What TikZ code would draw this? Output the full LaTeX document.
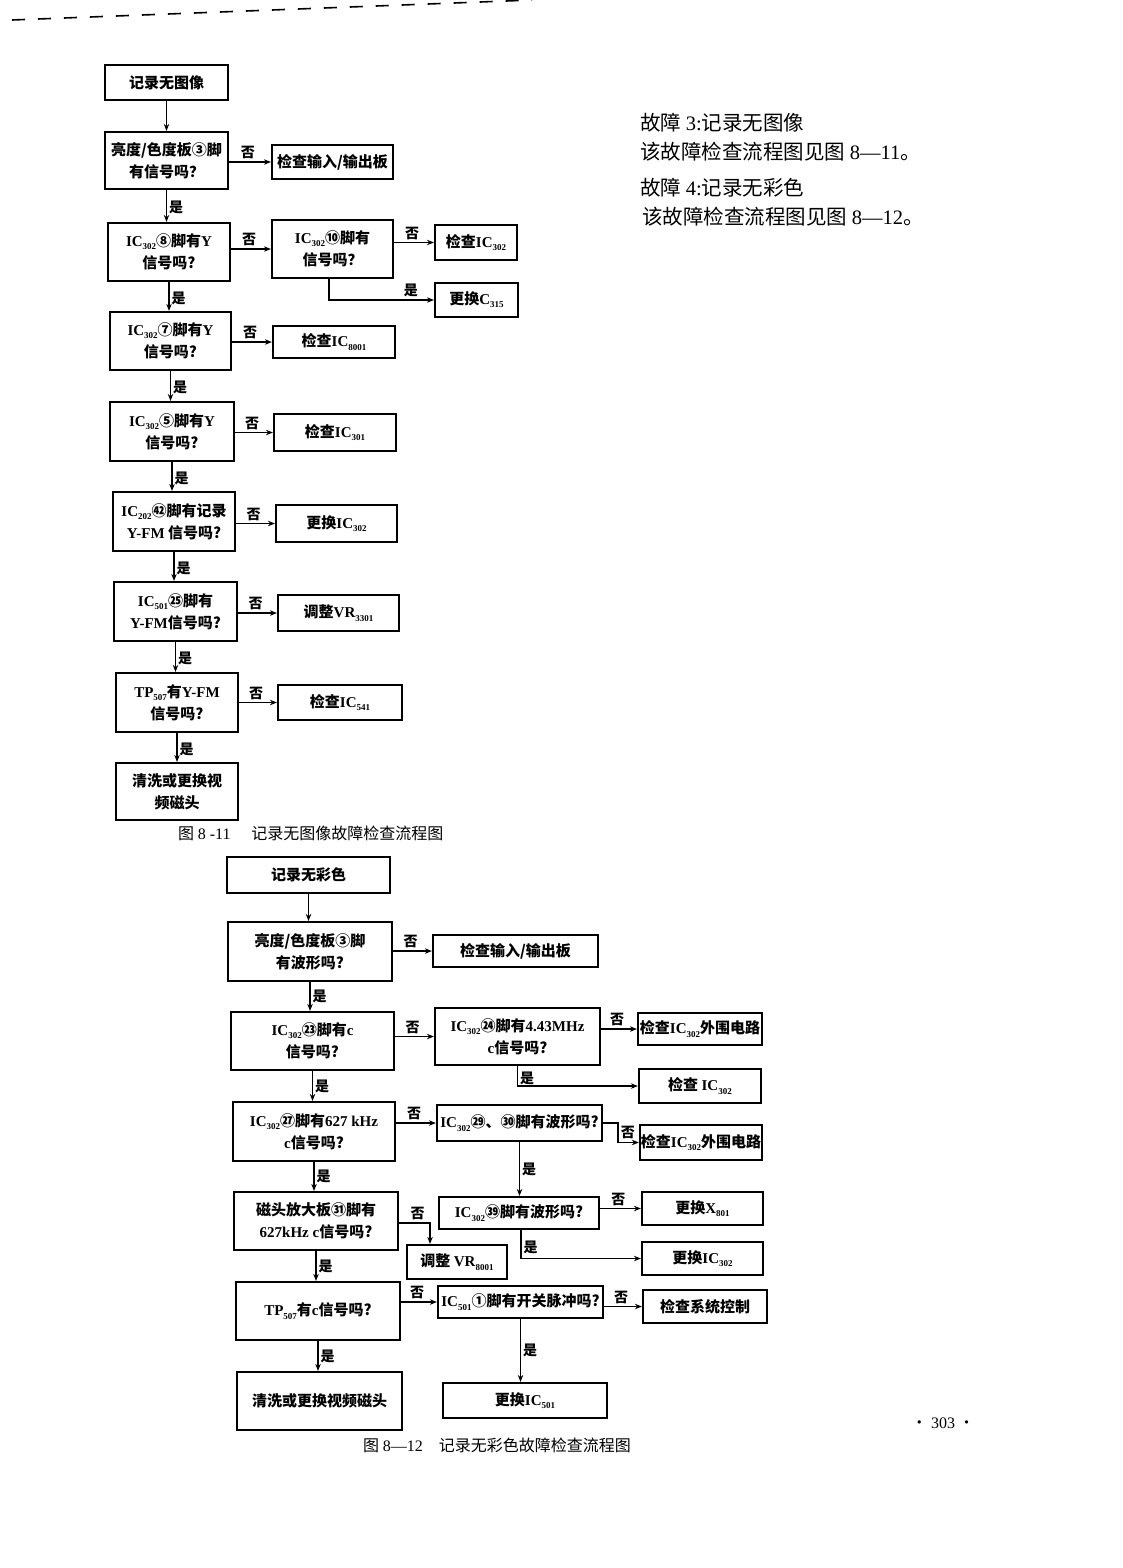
\documentclass[tikz,border=0pt]{standalone}
\usepackage{fontspec}
\setmainfont{Noto Sans CJK SC}
\newfontfamily\lat{Liberation Serif}
\usetikzlibrary{arrows.meta,calc}
\newcommand\sbs[1]{\raisebox{-0.4ex}{\fontsize{9}{9}\selectfont\lat #1}}
\newcommand\ic[1]{{\lat IC}\sbs{#1}}
\newcommand\la[1]{{\lat #1}}
\newcommand\bx[6]{\node[box, minimum width={(#4)-(#2)}, minimum height={(#5)-(#3)}] (#1) at ({((#2)+(#4))/2},{((#3)+(#5))/2}) {#6};}
\begin{document}
\begin{tikzpicture}[x=1pt,y=-1pt,
  box/.style={draw, line width=2.2pt, align=center, inner sep=1pt, font=\fontsize{15}{22}\selectfont\bfseries},
  arr/.style={line width=1.4pt, -{Stealth[length=7pt,width=5.5pt]}},
  lbl/.style={font=\fontsize{14}{14}\selectfont\bfseries, inner sep=2pt},
  sidetxt/.style={anchor=west, inner sep=0pt, font=\fontsize{20.5}{24}\selectfont},
  captxt/.style={anchor=west, inner sep=0pt, font=\fontsize{16}{18}\selectfont}]
\fill[white] (0,0) rectangle (1122,1568);
\useasboundingbox (0,0) rectangle (1122,1568);
\draw[line width=1.6pt, dash pattern=on 13pt off 13pt] (12,20) -- (532,0);

% ---------- figure 8-11 ----------
\bx{a1}{105}{65}{228}{100}{记录无图像}
\bx{a2}{105}{132}{228}{189}{亮度/色度板③脚\\有信号吗？}
\bx{a2n}{272}{145}{393}{179}{检查输入/输出板}
\bx{a3}{108}{223}{230}{281}{\ic{302}⑧脚有\la{Y}\\信号吗?}
\bx{a3n}{272}{220}{393}{278}{\ic{302}⑩脚有\\信号吗？}
\bx{a3nn}{435}{225}{517}{260}{检查\ic{302}}
\bx{a3ny}{435}{283}{518}{317}{更换\la{C}\sbs{315}}
\bx{a4}{110}{312}{231}{370}{\ic{302}⑦脚有\la{Y}\\信号吗?}
\bx{a4n}{273}{326}{395}{358}{检查\ic{8001}}
\bx{a5}{110}{402}{234}{461}{\ic{302}⑤脚有\la{Y}\\信号吗?}
\bx{a5n}{274}{414}{396}{451}{检查\ic{301}}
\bx{a6}{113}{492}{235}{551}{\ic{202}㊷脚有记录\\\la{Y-FM} 信号吗?}
\bx{a6n}{276}{505}{397}{542}{更换\ic{302}}
\bx{a7}{114}{582}{237}{641}{\ic{501}㉕脚有\\\la{Y-FM}信号吗?}
\bx{a7n}{278}{595}{399}{631}{调整\la{VR}\sbs{3301}}
\bx{a8}{116}{673}{238}{732}{\la{TP}\sbs{507}有\la{Y-FM}\\信号吗?}
\bx{a8n}{278}{685}{402}{720}{检查\ic{541}}
\bx{a9}{116}{763}{238}{820}{清洗或更换视\\频磁头}

\draw[arr] (a1.south) -- (a1.south |- a2.north);
\foreach \u/\v in {a2/a3,a3/a4,a4/a5,a5/a6,a6/a7,a7/a8,a8/a9}{
  \draw[arr] (\u.south) -- node[lbl, right, pos=0.55]{是} (\u.south |- \v.north);
}
\foreach \u/\v in {a2/a2n,a3/a3n,a4/a4n,a5/a5n,a6/a6n,a7/a7n,a8/a8n}{
  \draw[arr] (\v.west -| \u.east) -- node[lbl, above, pos=0.45]{否} (\v.west);
}
\draw[arr] (a3nn.west -| a3n.east) -- node[lbl, above, pos=0.45]{否} (a3nn.west);
\draw[arr] ([xshift=-3.5pt]a3n.south) |- node[lbl, above, pos=0.89]{是} (a3ny.west);

\node[captxt] (cap1) at (178,833) {图 \la{8 -11}\hspace{1.3em}记录无图像故障检查流程图};

% ---------- side text ----------
\node[sidetxt] (t1) at (640,123) {故障 \la{3:}记录无图像};
\node[sidetxt] (t2) at (640,152) {该故障检查流程图见图 \la{8—11}。};
\node[sidetxt] (t3) at (640,188) {故障 \la{4:}记录无彩色};
\node[sidetxt] (t4) at (642,217) {该故障检查流程图见图 \la{8—12}。};

% ---------- figure 8-12 ----------
\bx{b1}{227}{857}{390}{893}{记录无彩色}
\bx{b2}{228}{922}{392}{981}{亮度/色度板③脚\\有波形吗?}
\bx{b2n}{433}{935}{598}{967}{检查输入/输出板}
\bx{b3}{231}{1012}{394}{1070}{\ic{302}㉓脚有\la{c}\\信号吗?}
\bx{b3n}{435}{1008}{600}{1065}{\ic{302}㉔脚有\la{4.43MHz}\\\la{c}信号吗?}
\bx{b3nn}{638}{1013}{762}{1045}{检查\ic{302}外围电路}
\bx{b3ny}{639}{1069}{761}{1103}{检查 \ic{302}}
\bx{b4}{233}{1102}{395}{1161}{\ic{302}㉗脚有\la{627 kHz}\\\la{c}信号吗?}
\bx{b4n}{437}{1105}{602}{1141}{\ic{302}㉙、㉚脚有波形吗?}
\bx{b4nn}{640}{1125}{762}{1160}{检查\ic{302}外围电路}
\bx{b4ny}{439}{1197}{599}{1229}{\ic{302}㊴脚有波形吗?}
\bx{b4yn}{642}{1192}{763}{1225}{更换\la{X}\sbs{801}}
\bx{b4yy}{642}{1242}{763}{1275}{更换\ic{302}}
\bx{b5}{234}{1192}{398}{1250}{磁头放大板㉛脚有\\\la{627kHz c}信号吗?}
\bx{b5n}{407}{1245}{507}{1279}{调整 \la{VR}\sbs{8001}}
\bx{b6}{236}{1282}{400}{1340}{\la{TP}\sbs{507}有\la{c}信号吗?}
\bx{b6n}{438}{1286}{603}{1318}{\ic{501}①脚有开关脉冲吗?}
\bx{b6nn}{643}{1290}{767}{1323}{检查系统控制}
\bx{b6ny}{443}{1383}{607}{1418}{更换\ic{501}}
\bx{b7}{237}{1372}{402}{1430}{清洗或更换视频磁头}

\draw[arr] (b1.south) -- (b1.south |- b2.north);
\foreach \u/\v in {b2/b3,b3/b4,b4/b5,b5/b6,b6/b7,b4n/b4ny,b6n/b6ny}{
  \draw[arr] (\u.south) -- node[lbl, right, pos=0.5]{是} (\u.south |- \v.north);
}
\foreach \u/\v in {b2/b2n,b3/b3n,b4/b4n,b6/b6n,b3n/b3nn,b4ny/b4yn,b6n/b6nn}{
  \draw[arr] (\v.west -| \u.east) -- node[lbl, above, pos=0.45]{否} (\v.west);
}
\draw[arr] (b3n.south) |- node[lbl, right, pos=0.3]{是} (b3ny.west);
\draw[arr] ([xshift=2pt]b4ny.south) |- node[lbl, right, pos=0.3]{是} (b4yy.west);
\draw[arr] (b4n.east) -- ++(15,0) |- node[lbl, right, pos=0.25]{否} (b4nn.west);
\coordinate (b5c) at (430,1223);
\draw[arr] (b5.east |- b5c) -- node[lbl, above, pos=0.6]{否} (b5c) -- (b5c |- b5n.north);

\node[captxt] (cap2) at (363,1445) {图 \la{8—12}\hspace{1em}记录无彩色故障检查流程图};
\node[inner sep=0pt, font=\fontsize{16}{18}\selectfont] (pg) at (943,1423) {• \la{303} •};
\end{tikzpicture}
\end{document}
